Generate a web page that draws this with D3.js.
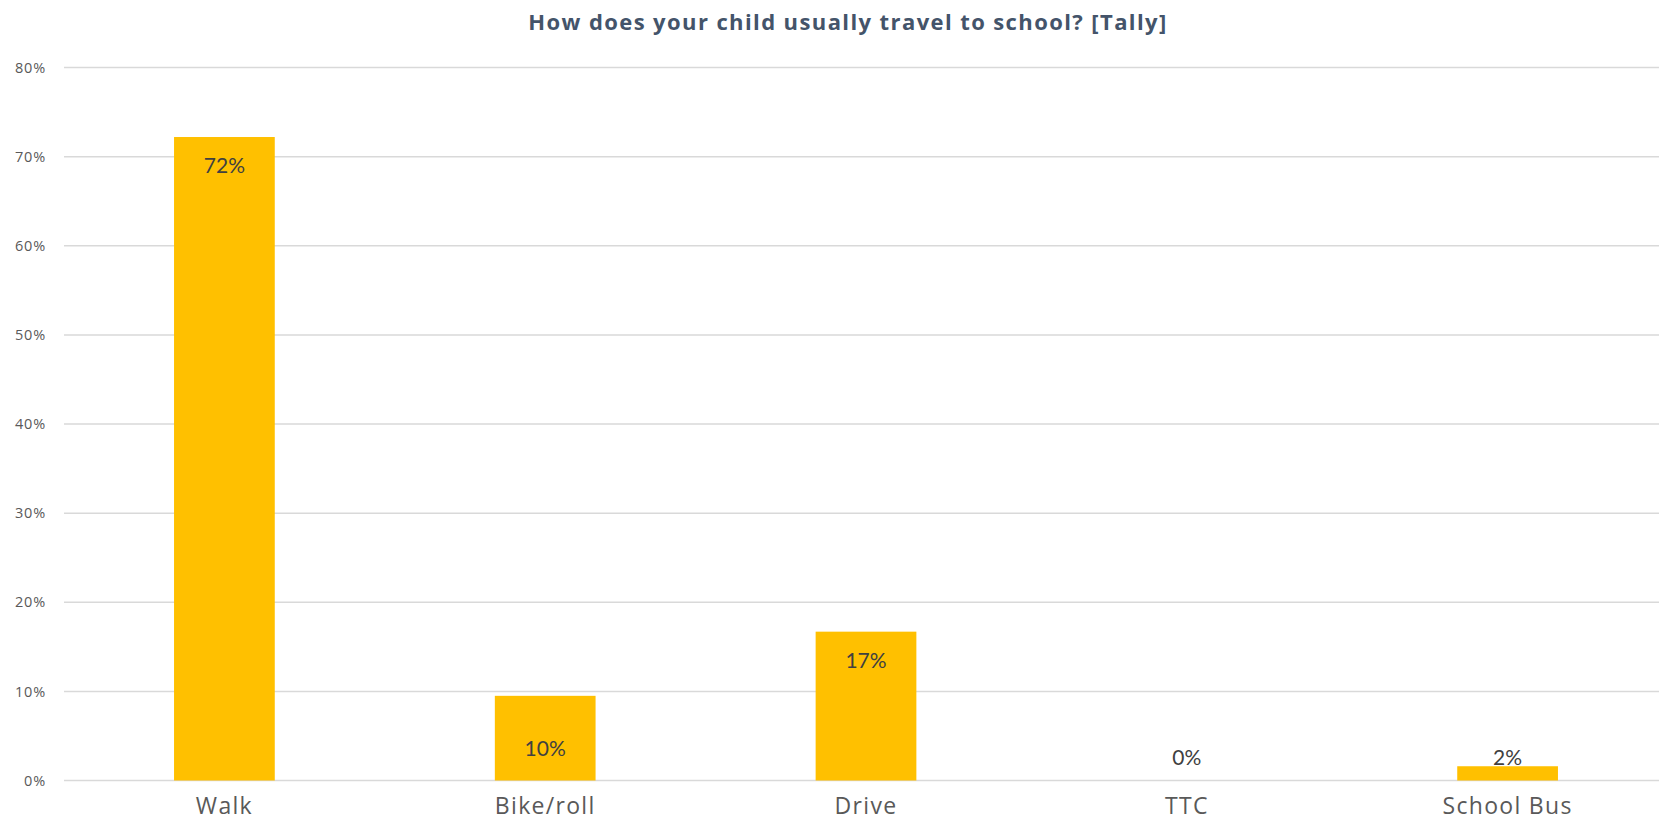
<!DOCTYPE html>
<html>
<head>
<meta charset="utf-8">
<script src="https://cdn.jsdelivr.net/npm/d3@7"></script>
<style>
  html, body { margin: 0; padding: 0; background: #fff; }
  svg { display: block; }
</style>
</head>
<body>
<svg id="chart" width="1659" height="821"></svg>
<script>
const categories = ["Walk", "Bike/roll", "Drive", "TTC", "School Bus"];
const values = [72.2, 9.5, 16.7, 0, 1.6];
const labels = ["72%", "10%", "17%", "0%", "2%"];
const yTicks = [0, 10, 20, 30, 40, 50, 60, 70, 80];
const title = "How does your child usually travel to school? [Tally]";

const W = 1659, H = 821;
const plot = { left: 64, right: 1668, top: 67.5, bottom: 780.5 };

const svg = d3.select("#chart");

const x = d3.scaleBand()
  .domain(categories)
  .range([plot.left, plot.right])
  .paddingInner(0.686)
  .paddingOuter(0.343);

const y = d3.scaleLinear()
  .domain([0, 80])
  .range([plot.bottom, plot.top]);

// gridlines
svg.append("g")
  .selectAll("line")
  .data(yTicks)
  .join("line")
  .attr("x1", plot.left)
  .attr("x2", W)
  .attr("y1", d => y(d))
  .attr("y2", d => y(d))
  .attr("stroke", "#D9D9D9")
  .attr("stroke-width", 1.5);

// y axis labels
const yAxis = d3.axisLeft(y).tickValues(yTicks).tickSize(0).tickPadding(18).tickFormat(d => d + "%");
const yg = svg.append("g").attr("transform", `translate(${plot.left},0)`).call(yAxis);
yg.select(".domain").remove();
yg.selectAll("text")
  .attr("font-family", "'Open Sans', sans-serif")
  .attr("font-size", 14.5)
  .attr("letter-spacing", 0.8)
  .attr("fill", "#595959");

// bars
svg.append("g")
  .selectAll("rect")
  .data(categories)
  .join("rect")
  .attr("x", d => x(d))
  .attr("width", x.bandwidth())
  .attr("y", (d, i) => y(values[i]))
  .attr("height", (d, i) => y(0) - y(values[i]))
  .attr("fill", "#FFC000");

// data labels
svg.append("g")
  .selectAll("text")
  .data(categories)
  .join("text")
  .attr("x", d => x(d) + x.bandwidth() / 2)
  .attr("y", (d, i) => {
    const h = y(0) - y(values[i]);
    if (h > 120) return y(values[i]) + 36;
    if (h > 50) return y(0) - 24.5;
    return y(0) - 16;
  })
  .attr("text-anchor", "middle")
  .attr("font-family", "Lato, sans-serif")
  .attr("font-size", 21)
  .attr("fill", "#404040")
  .text((d, i) => labels[i]);

// x axis labels
const xAxis = d3.axisBottom(x).tickSize(0).tickPadding(0);
const xg = svg.append("g").attr("transform", `translate(0,${plot.bottom})`).call(xAxis);
xg.select(".domain").remove();
xg.selectAll("text")
  .attr("dy", null)
  .attr("y", 33.8)
  .attr("font-family", "'Open Sans', sans-serif")
  .attr("font-size", 23)
  .attr("letter-spacing", 1.3)
  .attr("fill", "#595959");

// title
svg.append("text")
  .attr("x", 848)
  .attr("y", 30)
  .attr("text-anchor", "middle")
  .attr("font-family", "'Open Sans', sans-serif")
  .attr("font-weight", 700)
  .attr("font-size", 22)
  .attr("letter-spacing", 1.4)
  .attr("fill", "#44546A")
  .text(title);
</script>
</body>
</html>
